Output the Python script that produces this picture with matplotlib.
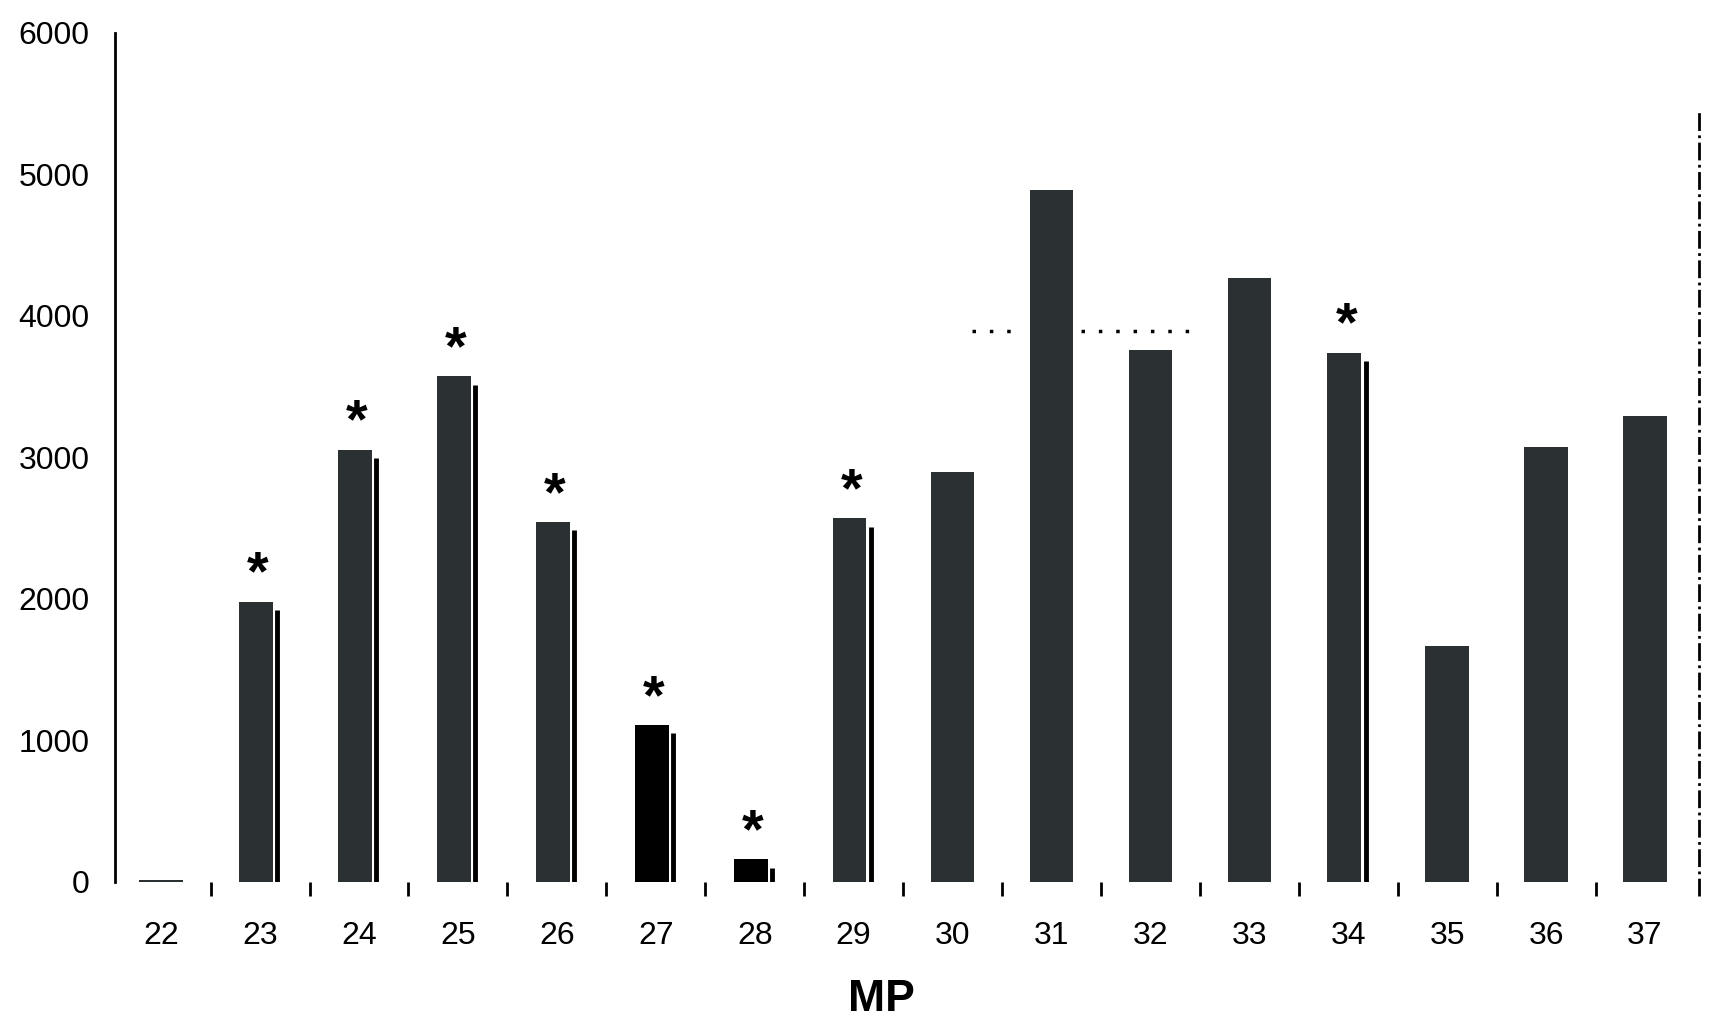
import matplotlib
matplotlib.use("Agg")
import matplotlib.pyplot as plt

# MP categories and bar values
mp = ["22", "23", "24", "25", "26", "27", "28", "29",
      "30", "31", "32", "33", "34", "35", "36", "37"]
values = [15, 1980, 3055, 3575, 2545, 1110, 160, 2570,
          2900, 4890, 3760, 4270, 3740, 1670, 3070, 3290]
# which bars carry an asterisk
marked = [False, True, True, True, True, True, True, True,
          False, False, False, False, True, False, False, False]
yticks = [0, 1000, 2000, 3000, 4000, 5000, 6000]

plt.rcParams["font.family"] = ["Liberation Sans", "DejaVu Sans"]

fig = plt.figure(figsize=(17.12, 10.29), dpi=100)
ax = fig.add_axes([0.067, 0.143, 0.921, 0.825])

grey = "#2b3033"
x = list(range(len(mp)))

for i in x:
    color = "black" if mp[i] in ("27", "28") else grey
    if marked[i]:
        ax.bar(i - 0.04, values[i], width=0.34, color=color)
        # thin black line beside the marked bars
        ax.vlines(i + 0.175, 0, values[i] - 60, color="black", lw=3.5)
        ax.annotate("*", (i - 0.02, values[i]), xytext=(0, 0),
                    textcoords="offset points", ha="center", va="bottom",
                    fontsize=40, fontweight="bold")
    else:
        ax.bar(i, values[i], width=0.44, color=color)

# scan leftovers: dotted line and dashed right frame
ax.plot([8.2, 8.6], [3890, 3890], ls=(0, (1, 4)), color="black", lw=2.5)
ax.plot([9.3, 10.4], [3890, 3890], ls=(0, (1, 4)), color="black", lw=2.5)
ax.plot([15.55, 15.55], [-100, 5450], ls="-.", color="black", lw=2,
        clip_on=False)

ax.set_xlim(-0.47, 15.47)
ax.set_ylim(0, 6000)
ax.set_yticks(yticks)
ax.set_yticklabels([str(v) for v in yticks], fontsize=23)
ax.tick_params(axis="y", length=0, pad=18)

ax.set_xticks(x)
ax.set_xticklabels(mp, fontsize=23)
ax.tick_params(axis="x", length=0, pad=28)
ax.set_xticks([i + 0.5 for i in x[:-1]], minor=True)
ax.tick_params(axis="x", which="minor", length=10, width=2, direction="out",
               pad=0)

for side in ["top", "right", "bottom"]:
    ax.spines[side].set_visible(False)
ax.spines["left"].set_linewidth(2)

ax.set_xlabel("MP", fontsize=32, fontweight="bold")
ax.xaxis.set_label_coords(0.486, -0.115)

fig.savefig("out.png", dpi=100)
